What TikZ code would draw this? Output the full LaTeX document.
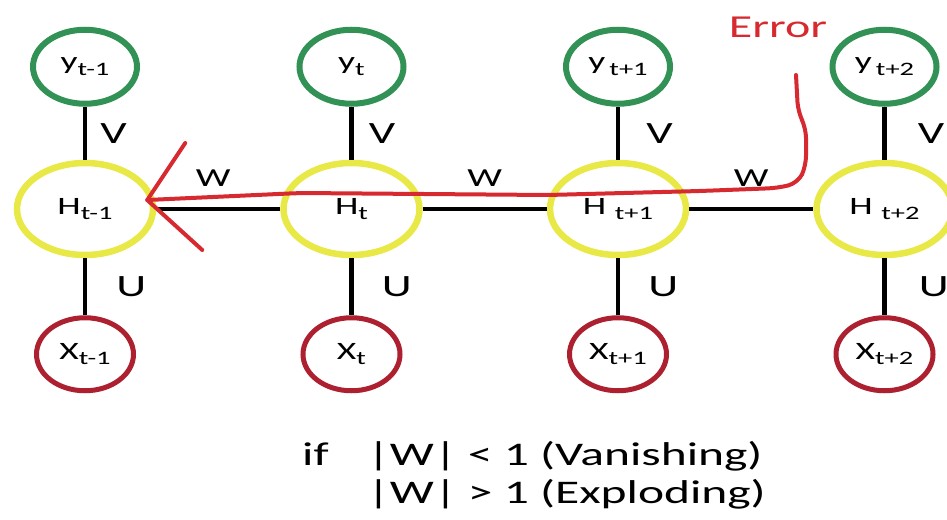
\documentclass[tikz,border=0pt]{standalone}
\usepackage{fontspec}
\setmainfont{Carlito}[FakeStretch=1.5]
\usepackage{tikz}
\usetikzlibrary{positioning,shapes.geometric}
\usepackage{xcolor}
\definecolor{cOut}{RGB}{50,145,85}
\definecolor{cHid}{RGB}{232,232,70}
\definecolor{cIn}{RGB}{172,32,48}
\definecolor{cErr}{RGB}{214,42,48}
\newcommand{\idx}[1]{\raisebox{-0.22em}{\fontsize{19}{19}\selectfont #1}}
\tikzset{
	ynode/.style={ellipse, draw=cOut, line width=6pt, minimum width=104pt,
		minimum height=74pt, inner sep=0pt, font=\fontsize{25}{28}\selectfont},
	hnode/.style={ellipse, draw=cHid, line width=6.5pt, minimum width=136pt,
		minimum height=92pt, inner sep=0pt, font=\fontsize{25}{28}\selectfont},
	xnode/.style={ellipse, draw=cIn, line width=5pt, minimum width=97pt,
		minimum height=73pt, inner sep=0pt, font=\fontsize{25}{28}\selectfont},
	link/.style={line width=4.8pt, draw=black},
	wlab/.style={font=\fontsize{26}{28}\selectfont, inner sep=3pt},
	vlab/.style={font=\fontsize{31}{34}\selectfont, inner sep=3pt},
	errline/.style={draw=cErr, line width=4pt, line cap=round, line join=round},
	note/.style={font=\fontsize{33}{38}\selectfont, inner sep=0pt, anchor=base west},
}

\begin{document}
\begin{tikzpicture}[x=1pt, y=-1pt]
	\useasboundingbox (0,0) rectangle (947,519);
	% hidden states
	\node[hnode] (h1) at (85,209) {H\idx{t-1}};
	\node[hnode, right=124pt of h1] (h2) {H\idx{t}};
	\node[hnode, right=124pt of h2] (h3) {H \idx{t+1}};
	\node[hnode, right=124pt of h3] (h4) {H \idx{t+2}};
	% outputs
	\node[ynode, above=53pt of h1] (y1) {y\idx{t-1}};
	\node[ynode, above=53pt of h2] (y2) {y\idx{t}};
	\node[ynode, above=53pt of h3] (y3) {y\,\idx{t+1}};
	\node[ynode, above=53pt of h4] (y4) {y\,\idx{t+2}};
	% inputs
	\node[xnode, below=57pt of h1] (x1) {X\idx{t-1}};
	\node[xnode, below=57pt of h2] (x2) {X\idx{t}};
	\node[xnode, below=57pt of h3] (x3) {X\idx{t+1}};
	\node[xnode, below=57pt of h4] (x4) {X\idx{t+2}};
	\draw[link] (y1) -- node[vlab, right=10pt] {V} (h1);
	\draw[link] (y2) -- node[vlab, right=12pt] {V} (h2);
	\draw[link] (y3) -- node[vlab, right=23pt] {V} (h3);
	\draw[link] (y4) -- node[vlab, right=28pt] {V} (h4);
	\draw[link] (h1) -- node[vlab, right=26pt] {U} (x1);
	\draw[link] (h2) -- node[vlab, right=25pt] {U} (x2);
	\draw[link] (h3) -- node[vlab, right=25pt] {U} (x3);
	\draw[link] (h4) -- node[vlab, right=29pt] {U} (x4);
	\draw[link] (h1) -- node[wlab, above=17pt, xshift=-5pt] {W} (h2);
	\draw[link] (h2) -- node[wlab, above=17pt] {W} (h3);
	\draw[link] (h3) -- node[wlab, above=17pt] {W} (h4);
	% backprop error
	\node[text=cErr, font=\fontsize{32}{34}\selectfont, inner sep=0pt] (err) at (778,27) {Error};
	\coordinate (errtop) at (796,75);
	\coordinate (tip) at ([xshift=-9pt,yshift=9pt]h1.east);
	\draw[errline, rounded corners=10pt] (errtop) -- (798,112) -- (806,128)
		-- (806,166) -- (798,183) -- (778,188) -- (700,191) -- (548,195)
		-- (300,193) -- (tip);
	\draw[errline] (tip) -- +(38,-57) (tip) -- +(55,50);
	\node[note] (cif) at (302,465) {if};
	\node[note] (cvan) at (367,465) {|W| < 1 (Vanishing)};
	\node[note] (cexp) at (367,503) {|W| > 1 (Exploding)};
\end{tikzpicture}
\end{document}
